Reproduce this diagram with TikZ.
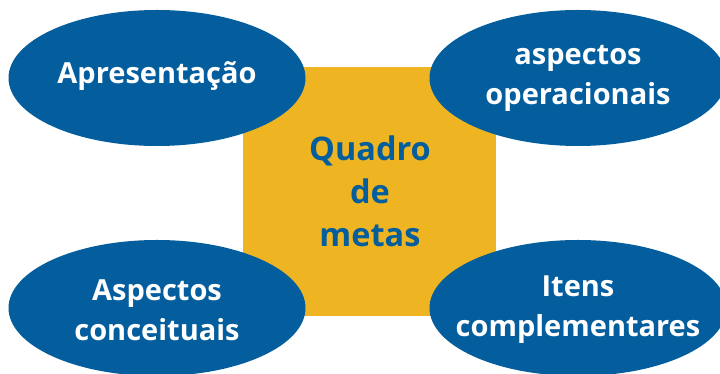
\documentclass[tikz,border=0pt]{standalone}
\usepackage{fontspec}
\setmainfont{Open Sans}
\usetikzlibrary{shapes.geometric}
\definecolor{blu}{HTML}{045E9D}
\definecolor{yel}{HTML}{EEB421}
\begin{document}
\begin{tikzpicture}[x=1pt,y=1pt,
  oval/.style={ellipse,fill=blu,inner sep=0pt,minimum width=297pt,minimum height=136pt},
  lbl/.style={text=white,inner sep=0pt,font=\fontsize{29}{40}\selectfont\bfseries,align=center},
  sq/.style={rectangle,fill=yel,inner sep=0pt,minimum width=253pt,minimum height=249pt},
  sqlbl/.style={text=blu,inner sep=0pt,font=\fontsize{32.5}{43}\selectfont\bfseries,align=center}]
\useasboundingbox (0,0) rectangle (720,374);
\node[sq] (q) at (369.5,182.5) {};
\node[sqlbl] (qt) at (370,183) {Quadro\\de\\metas};
\node[oval] (a) at (157,296) {};
\node[lbl] (at) at (157,298) {Apresentação};
\node[oval] (b) at (578,296) {};
\node[lbl] (bt) at (b) {aspectos\\operacionais};
\node[oval] (c) at (157,66) {};
\node[lbl] (ct) at (157,64) {Aspectos\\conceituais};
\node[oval] (d) at (578,66) {};
\node[lbl] (dt) at (578,64) {Itens\\complementares};
\end{tikzpicture}
\end{document}
